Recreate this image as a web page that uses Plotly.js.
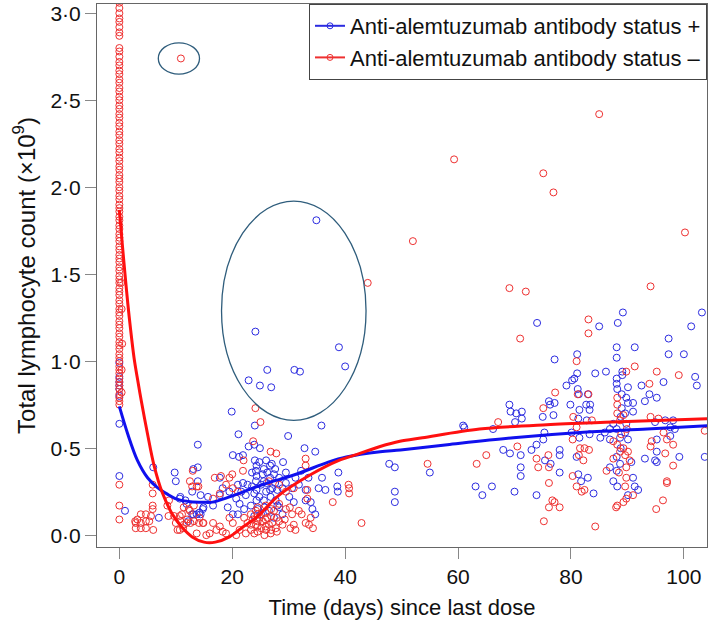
<!DOCTYPE html>
<html><head><meta charset="utf-8">
<script src="https://cdn.plot.ly/plotly-3.0.1.min.js"></script>
<style>html,body{margin:0;padding:0;background:#fff}#chart{width:709px;height:620px}</style>
</head><body><div id="chart"></div>
<script>
// ---- Data ----
const seriesNames = ['Anti-alemtuzumab antibody status +', 'Anti-alemtuzumab antibody status \u2013'];
const baselineDay = 0;

// antibody + (blue): counts measured on day 0
const blueBaselineCounts = [0.99, 0.91, 0.88, 0.86, 0.84, 0.80, 0.64, 0.34];
// antibody + (blue): other measurements
const blueDays = [
  1.0,
  6.0, 7.0, 9.8, 10.0, 13.9, 12.9, 14.4, 11.7, 11.9, 12.9, 13.7, 14.4, 14.9, 10.8,
  20.1, 21.2, 21.9, 22.9, 23.9, 24.9, 24.0, 24.8, 26.0, 27.0, 29.0,
  21.0, 21.9, 22.7, 24.2, 25.4, 26.2, 27.4, 28.3, 24.2, 25.1, 26.1, 27.1, 28.0, 28.9,
  21.6, 22.4, 23.9, 24.8, 26.0, 26.8, 27.7, 21.3, 22.1, 23.3, 24.5, 25.7, 26.5, 28.0, 28.9, 27.4, 28.3, 23.9, 25.1, 21.0, 20.7,
  31.2, 30.6, 30.1, 30.9, 31.8, 33.0, 33.9, 33.0, 34.2, 34.7, 35.3, 36.5, 35.9, 32.8, 34.7, 29.9, 35.8,
  13.9, 13.1, 13.9, 10.7, 15.7, 17.8, 17.8, 18.3, 19.5, 19.2, 16.6, 20.1, 14.8, 13.1, 12.2, 14.2,
  19.9, 21.1, 24.0, 38.8, 38.7, 38.6, 47.8, 48.8, 48.8, 48.8,
  34.9, 24.1, 38.9, 40.0, 26.2, 31.0, 32.0, 22.9, 24.9, 26.9,
  24.3, 24.3, 24.3, 24.3, 25.6, 25.6, 25.6, 26.7, 26.7, 26.7, 27.6, 27.6, 23.5, 23.5, 29.5, 29.5, 32.2, 33.5,
  55.0, 60.9, 61.1, 63.1, 64.3, 66.0, 66.2, 68.0,
  69.1, 69.3, 70.3, 71.3, 70.1, 71.3, 69.2, 71.1, 71.1, 71.1, 70.0,
  73.0, 73.9, 75.1, 75.3, 73.9, 76.3, 76.9, 75.0, 77.1, 76.1,
  78.0, 78.0, 78.0, 76.4, 75.4, 74.0, 77.1, 79.2, 80.2, 80.6, 79.9,
  81.1, 81.1, 84.3, 86.2, 85.0, 81.4, 83.0, 81.2, 82.7, 81.5, 83.3,
  81.3, 80.1, 81.5, 83.3, 82.8, 83.4, 81.0, 81.3, 81.8, 83.0, 84.0,
  88.1, 88.1, 89.2, 88.3, 91.3, 89.1, 89.1, 88.1, 88.1, 90.1, 89.0, 89.8, 91.0, 90.1, 89.0, 91.0,
  87.5, 89.8, 88.1, 89.6, 88.7, 90.1, 88.1, 88.7, 88.1, 91.0, 87.5, 88.2, 91.3, 91.9, 90.1, 90.7, 86.9, 86.9, 86.9, 86.0, 85.2,
  88.8, 88.8, 89.6, 88.2,
  92.5, 93.1, 93.9, 95.2, 96.4, 94.9, 96.7, 98.1, 97.6, 95.2, 98.4, 97.6, 95.2,
  94.9, 95.2, 99.2, 93.1, 103.7, 102.0, 102.3, 97.3, 97.3, 100.0, 101.3, 103.2
];
const blueCounts = [
  0.14,
  0.39, 0.10, 0.36, 0.31, 0.31, 0.25, 0.23, 0.20, 0.18, 0.12, 0.12, 0.12, 0.16, 0.22,
  0.46, 0.45, 0.46, 0.51, 0.52, 0.50, 0.43, 0.42, 0.43, 0.41, 0.42,
  0.29, 0.30, 0.29, 0.37, 0.35, 0.36, 0.35, 0.33, 0.31, 0.29, 0.30, 0.27, 0.26, 0.27,
  0.25, 0.23, 0.24, 0.22, 0.25, 0.22, 0.20, 0.18, 0.15, 0.17, 0.15, 0.16, 0.14, 0.17, 0.12, 0.10, 0.16, 0.11, 0.12, 0.12, 0.21,
  0.33, 0.27, 0.22, 0.19, 0.29, 0.26, 0.19, 0.20, 0.15, 0.12, 0.27, 0.26, 0.33, 0.50, 0.48, 0.57, 0.63,
  0.52, 0.38, 0.39, 0.21, 0.22, 0.23, 0.33, 0.27, 0.25, 0.16, 0.17, 0.12, 0.15, 0.12, 0.08, 0.13,
  0.71, 0.58, 0.63, 0.36, 0.25, 0.28, 0.41, 0.39, 0.25, 0.19,
  1.81, 1.17, 1.08, 0.97, 0.95, 0.95, 0.94, 0.89, 0.86, 0.85,
  0.20, 0.26, 0.34, 0.40, 0.20, 0.31, 0.38, 0.26, 0.33, 0.40, 0.30, 0.38, 0.28, 0.36, 0.30, 0.36, 0.37, 0.33,
  0.36, 0.63, 0.62, 0.28, 0.23, 0.28, 0.61, 0.49,
  0.75, 0.71, 0.70, 0.71, 0.65, 0.67, 0.47, 0.46, 0.39, 0.34, 0.25,
  0.49, 0.52, 0.55, 0.59, 0.23, 0.75, 0.69, 0.68, 0.76, 0.77,
  0.49, 0.46, 0.36, 0.41, 0.43, 1.22, 1.01, 0.86, 0.89, 0.90, 0.75,
  1.04, 0.93, 0.93, 0.94, 1.20, 0.81, 0.81, 0.84, 0.75, 0.72, 0.72,
  0.67, 0.59, 0.56, 0.58, 0.66, 0.75, 0.45, 0.35, 0.31, 0.33, 0.24,
  1.08, 1.02, 1.28, 1.22, 1.08, 0.94, 0.92, 0.90, 0.87, 0.85, 0.81, 0.79, 0.76, 0.76, 0.73, 0.71,
  0.64, 0.64, 0.61, 0.59, 0.56, 0.55, 0.45, 0.41, 0.37, 0.33, 0.31, 0.28, 0.28, 0.26, 0.23, 0.42, 0.39, 0.61, 0.55, 0.59, 0.56,
  0.50, 0.68, 0.70, 0.84,
  0.86, 0.77, 0.81, 0.79, 0.88, 0.65, 0.66, 0.66, 0.62, 0.55, 0.61, 0.57, 0.48,
  0.43, 0.42, 0.45, 0.44, 0.45, 0.91, 0.86, 1.13, 1.04, 1.04, 1.20, 1.28
];

// antibody - (red): counts measured on day 0
const redBaselineCounts = [
  0.09, 0.17, 0.29,
  0.75, 0.77, 0.79, 0.81, 0.84, 0.86, 0.88, 0.90, 0.93, 0.95, 0.97, 1.00, 1.02, 1.04, 1.07, 1.09,
  1.11, 1.14, 1.16, 1.19, 1.21, 1.23, 1.26, 1.28, 1.30, 1.33, 1.35, 1.38, 1.40, 1.42, 1.45, 1.47,
  1.49, 1.52, 1.54, 1.57, 1.59, 1.61, 1.64, 1.66, 1.69, 1.71, 1.73, 1.76, 1.78, 1.81, 1.83, 1.86,
  1.88, 1.90, 1.93, 1.95, 1.98, 2.00, 2.03, 2.05, 2.07, 2.10, 2.12, 2.15, 2.17, 2.20, 2.22, 2.25,
  2.27, 2.30, 2.32, 2.35, 2.37, 2.40, 2.42, 2.45, 2.47, 2.50, 2.52, 2.55, 2.57, 2.60, 2.62, 2.65,
  2.67, 2.70, 2.72, 2.75, 2.78, 2.80, 2.87, 2.89, 2.92, 2.95, 2.97, 3.00, 3.03, 3.06
];
// antibody - (red): other measurements
const redDays = [
  0.4, 0.4, 0.5, 0.4, 0.3, 10.9,
  2.8, 2.9, 3.8, 3.8, 3.8, 4.7, 4.7, 4.7, 5.3, 5.6, 6.0, 2.9, 3.2,
  5.9, 5.9, 5.9, 5.9, 8.5, 8.8, 8.7, 11.4, 12.3, 13.2,
  9.7, 10.0, 10.3, 10.8, 11.1, 11.4, 12.0, 12.6, 13.2, 14.1, 14.9, 10.7, 12.9, 14.0,
  24.1, 25.0, 23.7, 26.8, 27.8, 33.0, 22.0, 33.0, 13.0, 16.9, 18.0, 19.5, 20.0, 12.5, 13.7,
  40.6, 40.7, 40.7, 37.8, 42.9, 21.9, 20.1, 21.0, 18.9, 17.8, 16.6, 26.5, 28.3, 29.5, 30.9, 33.3, 33.3,
  31.8, 30.6, 33.9, 33.0, 33.6, 30.9, 31.2, 30.3, 24.2, 24.8, 23.6, 25.4, 26.2, 27.1, 24.2, 25.1, 26.0, 26.5, 27.7,
  23.3, 22.7, 22.1, 19.5, 20.1, 17.8, 17.2, 18.3, 16.6, 18.9, 14.8, 13.7, 11.9, 11.3, 10.7, 12.5, 14.2, 15.4, 16.0,
  21.3, 22.4, 20.7, 23.9, 25.7, 26.8, 28.3, 28.9, 29.5, 28.3, 27.4, 44.0,
  24.5, 24.5, 24.5, 24.5, 24.5, 25.9, 25.9, 25.9, 25.9, 26.9, 26.9, 26.9, 23.3, 23.3, 27.9, 27.9, 29.3, 30.2, 32.3, 34.3,
  52.0, 59.3, 75.1, 76.9, 85.0, 100.2, 69.1, 72.0, 94.1, 83.1, 83.1, 71.0,
  81.0, 91.3, 89.8, 95.2, 99.1, 77.2, 75.1, 67.1, 54.6, 63.3, 65.0, 70.5,
  73.9, 74.2, 76.1, 76.0, 76.1, 76.7, 76.1, 75.2, 78.0, 77.1,
  81.2, 83.1, 80.4, 81.0, 80.3, 81.6, 82.4, 83.2, 81.4, 82.2, 80.3, 81.0, 82.4, 81.9, 84.3, 83.7,
  88.2, 88.2, 88.2, 89.3, 88.7, 87.5, 88.2, 89.3, 90.1, 88.7, 89.6, 90.4, 87.5, 89.8, 86.3, 89.8, 91.0, 89.8, 89.3, 88.2, 88.0,
  88.9, 89.9, 88.5, 89.6,
  93.9, 94.1, 95.5, 96.4, 97.0, 98.1, 94.1, 94.3, 98.1, 97.0, 97.0, 96.3, 95.1, 103.7, 96.7
];
const redCounts = [
  0.82, 0.95, 1.10, 1.30, 1.45, 2.74,
  0.08, 0.07, 0.12, 0.07, 0.04, 0.12, 0.08, 0.04, 0.08, 0.11, 0.03, 0.04, 0.09,
  0.29, 0.24, 0.17, 0.15, 0.17, 0.20, 0.11, 0.16, 0.15, 0.17,
  0.11, 0.07, 0.03, 0.08, 0.12, 0.06, 0.09, 0.07, 0.08, 0.07, 0.07, 0.03, 0.28, 0.28,
  0.73, 0.65, 0.54, 0.48, 0.47, 0.44, 0.43, 0.40, 0.37, 0.33, 0.34, 0.33, 0.35, 0.31, 0.28,
  0.29, 0.27, 0.24, 0.19, 0.07, 0.37, 0.27, 0.25, 0.29, 0.24, 0.21, 0.31, 0.29, 0.25, 0.27, 0.26, 0.21,
  0.14, 0.12, 0.10, 0.07, 0.06, 0.06, 0.03, 0.04, 0.14, 0.10, 0.09, 0.08, 0.10, 0.07, 0.06, 0.04, 0.03, 0.06, 0.04,
  0.03, 0.07, 0.10, 0.10, 0.07, 0.05, 0.03, 0.02, 0.07, 0.01, 0.07, 0.01, 0.07, 0.04, 0.11, 0.14, 0.10, 0.00, 0.01,
  0.03, 0.01, 0.00, 0.01, 0.00, 0.01, 0.08, 0.06, 0.15, 0.18, 0.14, 1.45,
  0.02, 0.05, 0.08, 0.12, 0.16, 0.05, 0.09, 0.13, 0.17, 0.03, 0.11, 0.15, 0.06, 0.12, 0.10, 0.02, 0.09, 0.16, 0.12, 0.04,
  1.69, 2.16, 2.08, 1.97, 2.42, 1.74, 1.42, 1.40, 1.43, 1.24, 1.16, 1.13,
  1.00, 0.97, 0.94, 0.94, 0.92, 0.82, 0.73, 0.65, 0.41, 0.41, 0.46, 0.51,
  0.44, 0.39, 0.39, 0.46, 0.30, 0.20, 0.16, 0.08, 0.16, 0.19,
  0.81, 0.81, 0.68, 0.62, 0.55, 0.50, 0.50, 0.49, 0.46, 0.43, 0.34, 0.28, 0.26, 0.25, 0.05, 0.66,
  0.79, 0.75, 0.70, 0.69, 0.66, 0.54, 0.52, 0.50, 0.48, 0.48, 0.46, 0.43, 0.44, 0.39, 0.37, 0.33, 0.23, 0.21, 0.19, 0.17, 0.16,
  0.58, 0.61, 0.36, 0.28,
  0.87, 0.68, 0.67, 0.59, 0.55, 0.52, 0.51, 0.54, 0.40, 0.31, 0.30, 0.20, 0.15, 0.60, 0.47
];

// smoothed trend curves
const blueFitDays = [0, 1.5, 3.2, 5, 6.7, 8.5, 10.2, 12.6, 14.9, 16.5, 19.5, 25.3, 31.3, 37, 40.2, 46.2, 49.8, 58.1, 69.8, 81.6, 93.5, 104.5];
const blueFitCounts = [0.74, 0.58, 0.43, 0.33, 0.275, 0.236, 0.207, 0.192, 0.189, 0.19, 0.22, 0.29, 0.35, 0.42, 0.45, 0.48, 0.49, 0.52, 0.56, 0.59, 0.61, 0.63];
const redFitDays = [0, 0.5, 1, 1.5, 2, 2.6, 3.2, 3.9, 5, 6.15, 7.6, 9.4, 11.1, 12.9, 15, 17, 19.5, 22, 24.2, 28.3, 34, 38.9, 42.6, 46.2, 49.7, 53.7, 63.8, 75.7, 87.4, 104.5];
const redFitCounts = [1.87, 1.68, 1.50, 1.33, 1.18, 1.02, 0.90, 0.77, 0.58, 0.40, 0.245, 0.12, 0.045, -0.01, -0.04, -0.04, -0.01, 0.05, 0.10, 0.23, 0.35, 0.43, 0.47, 0.51, 0.54, 0.56, 0.61, 0.635, 0.65, 0.67];

// highlighted regions (days, counts)
const highlightDays = [[6.9, 14.2], [18.1, 43.7]];
const highlightCounts = [[2.65, 2.83], [0.66, 1.92]];

const xTicks = [0, 20, 40, 60, 80, 100];
const yTicks = [0, 0.5, 1, 1.5, 2, 2.5, 3];
const yTickText = ['0\u00b70', '0\u00b75', '1\u00b70', '1\u00b75', '2\u00b70', '2\u00b75', '3\u00b70'];

// ---- Drawing ----
const BLUE = '#2b2be0', RED = '#ee3030';
const FONT = 'Liberation Sans, Arial, Helvetica, sans-serif';

const blueX = blueBaselineCounts.map(() => baselineDay).concat(blueDays);
const blueY = blueBaselineCounts.concat(blueCounts);
const redX = redBaselineCounts.map(() => baselineDay).concat(redDays);
const redY = redBaselineCounts.concat(redCounts);

const traces = [
  {x: blueX, y: blueY, type: 'scatter', mode: 'markers', showlegend: false, hoverinfo: 'skip',
   marker: {symbol: 'circle-open', size: 7, color: BLUE, line: {width: 1}}},
  {x: redX, y: redY, type: 'scatter', mode: 'markers', showlegend: false, hoverinfo: 'skip',
   marker: {symbol: 'circle-open', size: 7, color: RED, line: {width: 1}}},
  {x: blueFitDays, y: blueFitCounts, type: 'scatter', mode: 'lines', showlegend: false,
   line: {color: '#1010ee', width: 3, shape: 'spline', smoothing: 0.9}},
  {x: redFitDays, y: redFitCounts, type: 'scatter', mode: 'lines', showlegend: false,
   line: {color: '#ff1010', width: 3, shape: 'spline', smoothing: 0.9}},
  {x: [null], y: [null], type: 'scatter', mode: 'lines+markers', name: seriesNames[0],
   line: {color: BLUE, width: 2}, marker: {symbol: 'circle-open', size: 6, color: BLUE}},
  {x: [null], y: [null], type: 'scatter', mode: 'lines+markers', name: seriesNames[1],
   line: {color: RED, width: 2}, marker: {symbol: 'circle-open', size: 6, color: RED}}
];

const shapes = highlightDays.map((d, i) => ({
  type: 'circle', xref: 'x', yref: 'y',
  x0: d[0], x1: d[1], y0: highlightCounts[i][0], y1: highlightCounts[i][1],
  line: {color: '#2f5d7c', width: 1.3}
}));

const layout = {
  width: 709, height: 620,
  margin: {l: 97, r: 2, t: 4, b: 73},
  paper_bgcolor: '#fff', plot_bgcolor: '#fff',
  font: {family: FONT, color: '#111', size: 21},
  showlegend: true,
  legend: {x: 1, y: 1, xanchor: 'right', yanchor: 'top', bgcolor: '#fff',
           bordercolor: '#444', borderwidth: 1, font: {size: 22, family: FONT, color: '#111'},
           itemwidth: 30, tracegroupgap: 0},
  xaxis: {range: [-3.96, 104.1], tickvals: xTicks, ticktext: xTicks.map(String),
          ticks: 'outside', ticklen: 11, tickcolor: '#888', tickwidth: 1,
          showline: true, mirror: true, linecolor: '#666', linewidth: 1,
          showgrid: false, zeroline: false, tickfont: {size: 21},
          title: {text: 'Time (days) since last dose', font: {size: 22}, standoff: 12}},
  yaxis: {range: [-0.068, 3.053], tickvals: yTicks, ticktext: yTickText,
          ticks: 'outside', ticklen: 11, tickcolor: '#888', tickwidth: 1,
          showline: true, mirror: true, linecolor: '#666', linewidth: 1,
          showgrid: false, zeroline: false, tickfont: {size: 21},
          title: {text: 'Total lymphocyte count (\u00d710<sup>9</sup>)', font: {size: 24}, standoff: 8}},
  shapes: shapes
};

Plotly.newPlot('chart', traces, layout, {displayModeBar: false, staticPlot: true});
</script></body></html>
